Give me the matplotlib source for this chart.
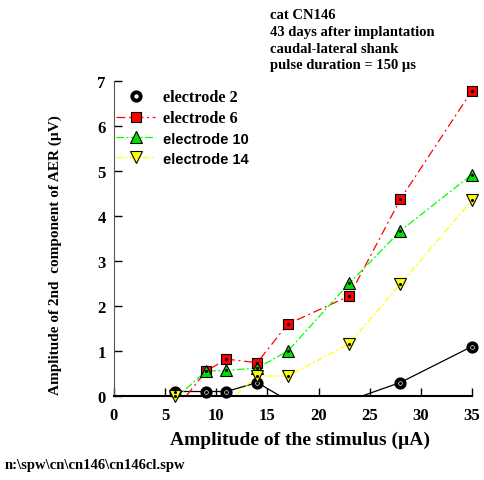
import matplotlib
matplotlib.use("Agg")
import matplotlib.pyplot as plt
import numpy as np

# stimulus amplitude (uA)
stim = [6, 9, 11, 14, 17, 23, 28, 35]

# amplitude of 2nd component of AER (uV); negative values fall below the axis
elec2 = [0.1, 0.1, 0.1, 0.3, -0.1, -0.1, 0.3, 1.1]
elec6 = [-0.3, 0.55, 0.82, 0.74, 1.6, 2.22, 4.37, 6.78]
elec10 = [-0.05, 0.55, 0.57, 0.62, 1.0, 2.5, 3.67, 4.92]
elec14 = [0.0, -0.2, -0.17, 0.45, 0.44, 1.16, 2.49, 4.35]

header = ["cat CN146", "43 days after implantation",
          "caudal-lateral shank", "pulse duration = 150 \u00b5s"]

serif = "Liberation Serif"
sans = "Liberation Sans"

fig = plt.figure(figsize=(4.85, 4.81), dpi=100)
ax = fig.add_axes([0.235, 0.1746, 0.738, 0.655])

series = [
    ("electrode 2", elec2, dict(color="black", lw=0.9, ls="-"),
     dict(marker="o", ms=6, mfc="white", mec="black", mew=2.8)),
    ("electrode 6", elec6, dict(color="red", lw=0.9, dashes=(7, 3, 1.5, 3)),
     dict(marker="s", ms=7.5, mfc="red", mec="black", mew=0.8)),
    ("electrode 10", elec10, dict(color="#00ff00", lw=0.9, dashes=(6, 2, 1.5, 2)),
     dict(marker="^", ms=8.5, mfc="#00e000", mec="black", mew=0.8)),
    ("electrode 14", elec14, dict(color="yellow", lw=0.9, dashes=(5, 2, 1.5, 2)),
     dict(marker="v", ms=8.5, mfc="yellow", mec="black", mew=0.8)),
]

handles = []
for name, vals, lstyle, mstyle in series:
    x = np.array(stim, dtype=float)
    y = np.array(vals, dtype=float)
    ax.plot(x, y, zorder=2, **lstyle)
    keep = y >= 0
    ax.plot(x[keep], y[keep], ls="none", clip_on=False, zorder=3, **mstyle)
    ax.plot(x[keep], y[keep], ls="none", marker=".", ms=2.5, color="black",
            clip_on=False, zorder=4)
    if name == "electrode 2":
        h, = ax.plot([], [], ls="none", **mstyle)
    else:
        h, = ax.plot([], [], **lstyle, **mstyle)
    handles.append(h)

ax.set_xlim(0, 35)
ax.set_ylim(0, 7)
ax.set_xticks(np.arange(0, 36, 5))
ax.set_yticks(np.arange(0, 8, 1))
for s in ["top", "right"]:
    ax.spines[s].set_visible(False)
ax.spines["left"].set_color("#555555")
ax.spines["bottom"].set_linewidth(1.5)
ax.tick_params(axis="both", direction="in", length=6, width=1)
ax.tick_params(axis="x", pad=8)
ax.tick_params(axis="y", pad=6)
for lab in ax.get_xticklabels() + ax.get_yticklabels():
    lab.set_fontfamily(serif)
    lab.set_fontweight("bold")
    lab.set_fontsize(12)

ax.set_xlabel("Amplitude of the stimulus (\u00b5A)", fontfamily=serif,
              fontweight="bold", fontsize=14)
ax.xaxis.set_label_coords(0.52, -0.11)
ax.set_ylabel("Amplitude of 2nd  component of AER (\u00b5V)", fontfamily=serif,
              fontweight="bold", fontsize=11)
ax.yaxis.set_label_coords(-0.145, 0.45)

leg = ax.legend(handles, [s[0] for s in series], loc="upper left",
                bbox_to_anchor=(-0.035, 1.02), frameon=False, handlelength=2.4,
                handletextpad=0.5, labelspacing=0.32,
                prop=dict(family=serif, weight="bold", size=11.7))
for t in leg.get_texts()[2:]:
    t.set_fontfamily(sans)
    t.set_fontsize(10.5)

fig.text(270 / 485, 1 - 9 / 481, "\n".join(header), ha="left", va="top",
         fontfamily=serif, fontweight="bold", fontsize=10.5, linespacing=1.38)
fig.text(5 / 485, 1 - 466 / 481, "n:\\spw\\cn\\cn146\\cn146cl.spw", ha="left",
         va="center", fontfamily=serif, fontweight="bold", fontsize=10.5)

fig.savefig("out.png", dpi=100)
